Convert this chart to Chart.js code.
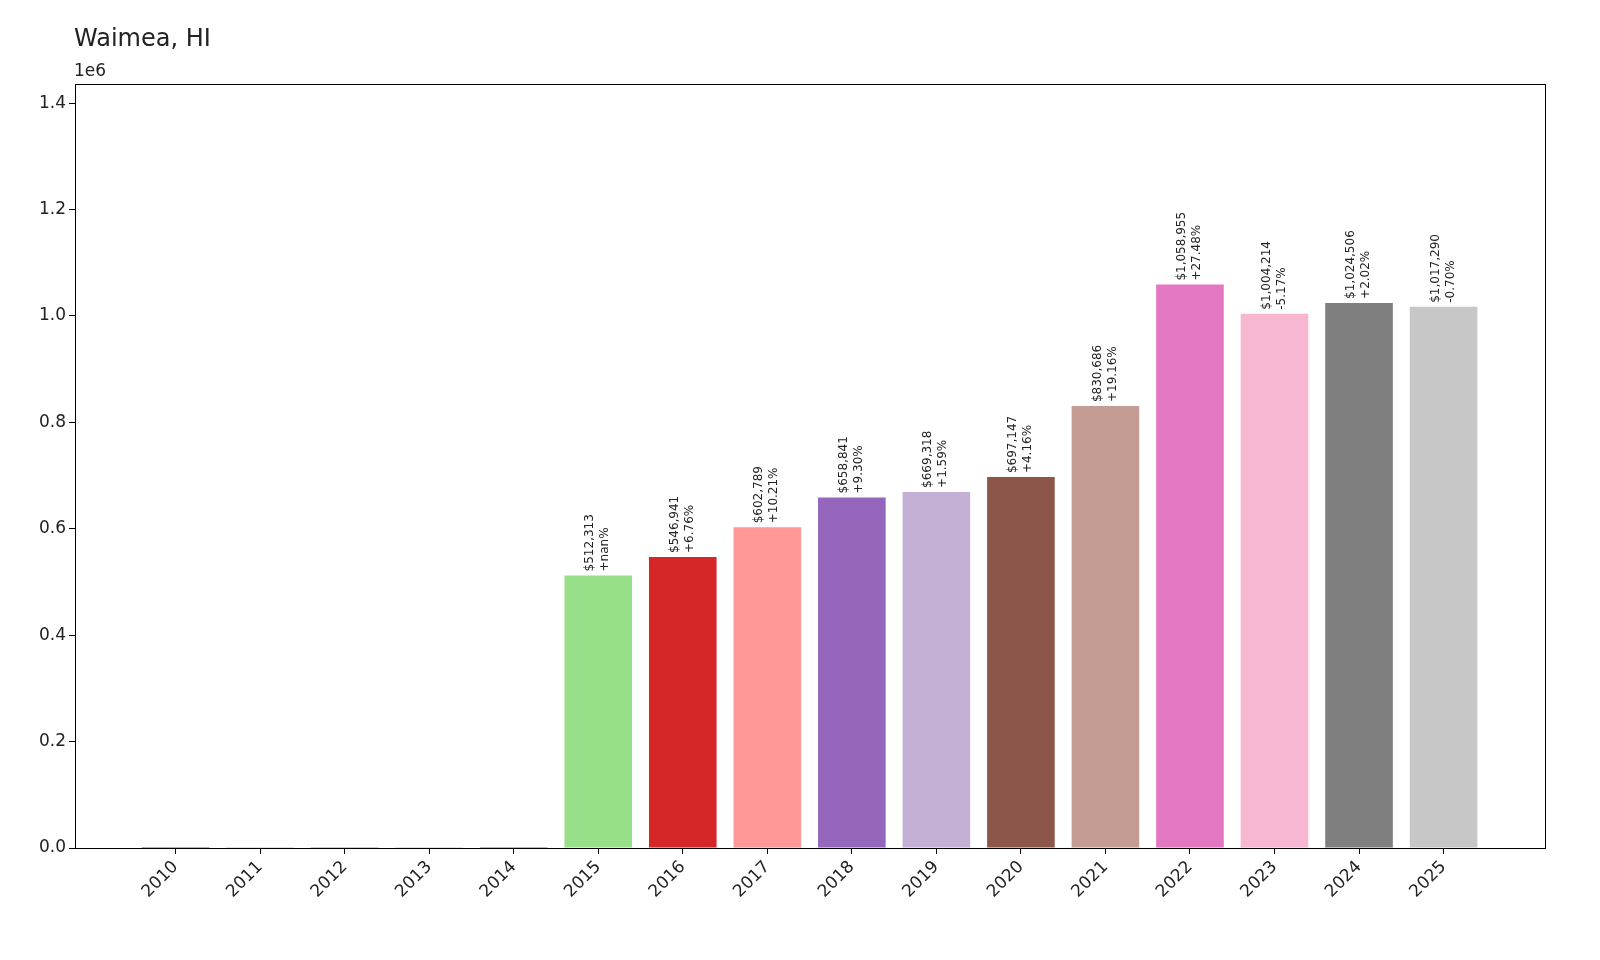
<!DOCTYPE html>
<html>
<head>
<meta charset="utf-8">
<script src="https://cdn.jsdelivr.net/npm/chart.js@4"></script>
<style>
  body { margin: 0; background: #fff; overflow: hidden; }
</style>
</head>
<body>
<canvas id="myChart" width="1600" height="960"></canvas>
<script>
var years = ["2010", "2011", "2012", "2013", "2014", "2015", "2016", "2017",
  "2018", "2019", "2020", "2021", "2022", "2023", "2024", "2025"];
var values = [0, 0, 0, 0, 0, 512313, 546941, 602789, 658841, 669318, 697147,
  830686, 1058955, 1004214, 1024506, 1017290];
var changes = ["", "", "", "", "", "+nan%", "+6.76%", "+10.21%", "+9.30%", "+1.59%",
  "+4.16%", "+19.16%", "+27.48%", "-5.17%", "+2.02%", "-0.70%"];
var barColors = ["#1f77b4", "#aec7e8", "#ff7f0e", "#ffbb78", "#2ca02c", "#98df8a",
  "#d62728", "#ff9896", "#9467bd", "#c5b0d5", "#8c564b", "#c49c94", "#e377c2",
  "#f7b6d2", "#7f7f7f", "#c7c7c7"];
var font = "'DejaVu Sans', sans-serif";

var points = values.map(function (v, i) { return { x: i, y: v }; });

var extras = {
  id: "extras",
  afterDraw: function (chart) {
    var ctx = chart.ctx;
    var a = chart.chartArea;
    ctx.save();
    // box
    ctx.strokeStyle = "#000";
    ctx.lineWidth = 1;
    ctx.strokeRect(a.left + 0.5, a.top + 0.5, a.right - a.left, a.bottom - a.top);
    // title and exponent
    ctx.fillStyle = "#222";
    ctx.font = "24px " + font;
    ctx.textBaseline = "alphabetic";
    ctx.fillText("Waimea, HI", 74, 46);
    ctx.font = "17px " + font;
    ctx.fillText("1e6", 74, 76);
    // bar labels
    var meta = chart.getDatasetMeta(0);
    ctx.font = "12px " + font;
    ctx.fillStyle = "#222";
    meta.data.forEach(function (bar, i) {
      if (!values[i]) return;
      var lines = ["$" + values[i].toLocaleString("en-US"), changes[i]];
      ctx.save();
      ctx.translate(bar.x, bar.y - 4);
      ctx.rotate(-Math.PI / 2);
      ctx.textAlign = "left";
      ctx.textBaseline = "middle";
      ctx.fillText(lines[0], 0, -8);
      ctx.fillText(lines[1], 0, 7);
      ctx.restore();
    });
    ctx.restore();
  }
};

new Chart("myChart", {
  type: "bar",
  data: {
    datasets: [{
      data: points,
      backgroundColor: barColors,
      barPercentage: 0.8,
      categoryPercentage: 1.0,
      minBarLength: 1
    }]
  },
  options: {
    responsive: false,
    animation: false,
    layout: { padding: { top: 84, right: 55, left: 0, bottom: 0 } },
    plugins: { legend: { display: false }, tooltip: { enabled: false } },
    scales: {
      x: {
        type: "linear",
        offset: false,
        min: -1.19,
        max: 16.2,
        afterBuildTicks: function (axis) {
          axis.ticks = years.map(function (y, i) { return { value: i }; });
        },
        afterFit: function (axis) { axis.height = 112; },
        ticks: {
          autoSkip: false,
          minRotation: 45,
          maxRotation: 45,
          color: "#222",
          font: { size: 17, family: font },
          callback: function (v) { return years[v]; }
        },
        grid: { offset: false, drawOnChartArea: false, drawTicks: true, tickLength: 6, color: "#000" },
        border: { display: true, color: "#000" }
      },
      y: {
        min: 0,
        max: 1436000,
        afterBuildTicks: function (axis) {
          var t = [];
          for (var v = 0; v <= 1400000; v += 200000) t.push({ value: v });
          axis.ticks = t;
        },
        afterFit: function (axis) { axis.width = 75; },
        ticks: {
          color: "#222",
          font: { size: 17, family: font },
          callback: function (v) { return (v / 1e6).toFixed(1); }
        },
        grid: { drawOnChartArea: false, drawTicks: true, tickLength: 6, color: "#000" },
        border: { display: true, color: "#000" }
      }
    }
  },
  plugins: [extras]
});
</script>
</body>
</html>
